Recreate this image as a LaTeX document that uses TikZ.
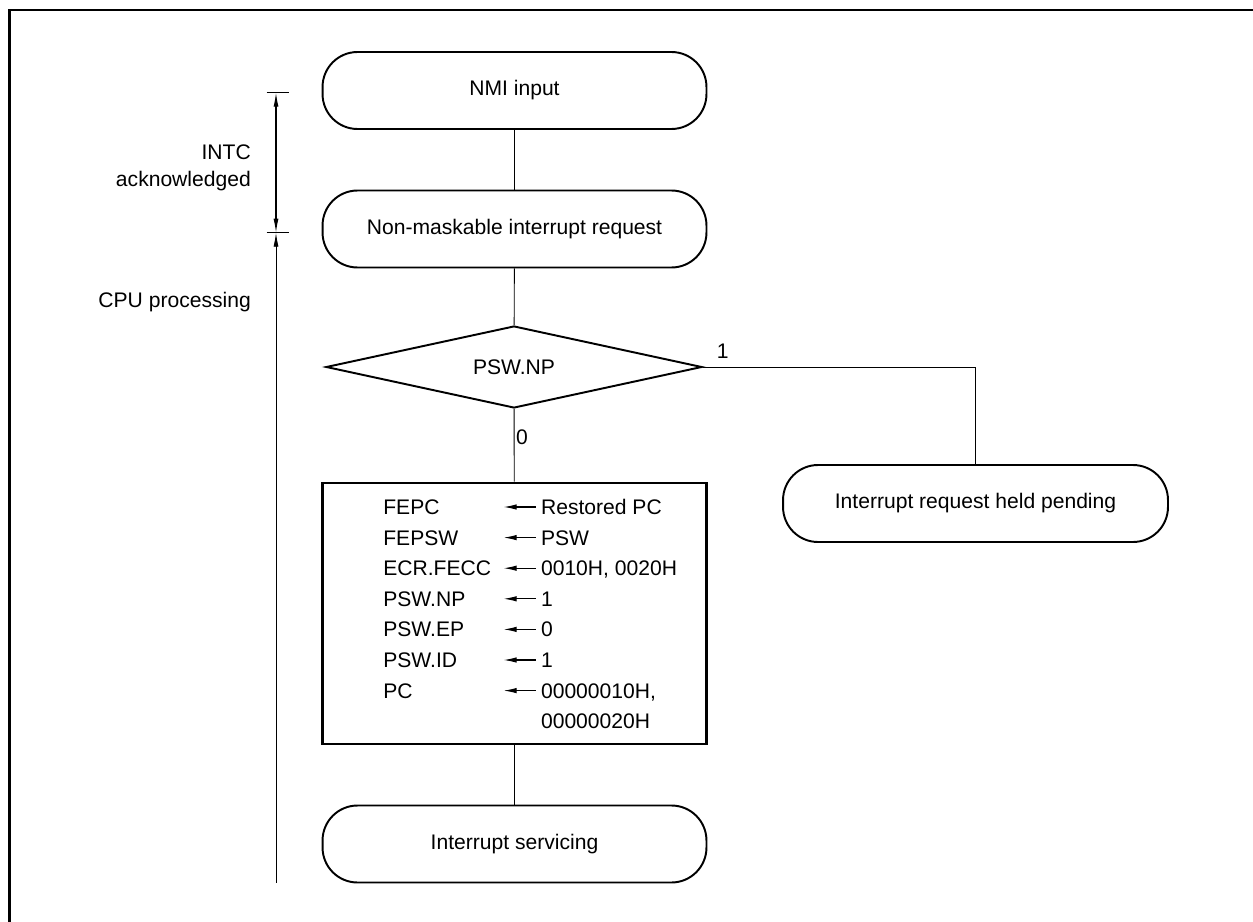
\documentclass[tikz,border=0pt]{standalone}
\usepackage{fontspec}
\setmainfont{Liberation Sans}
\usetikzlibrary{calc, positioning}
\usetikzlibrary{arrows.meta}
\usetikzlibrary{shapes.geometric}

\begin{document}
\begin{tikzpicture}[x=0.02cm, y=-0.02cm,
  every node/.style={font=\fontsize{12}{15.3}\selectfont},
  term/.style={draw, line width=1.1pt, rounded corners=0.7cm, minimum width=7.68cm, minimum height=1.54cm, inner sep=0pt},
  decision/.style={draw, diamond, line width=1.1pt, minimum width=7.52cm, minimum height=1.64cm, inner sep=0pt, aspect=4.6},
  procbox/.style={draw, line width=1.5pt, minimum width=7.67cm, minimum height=5.22cm, inner sep=0pt},
  flow/.style={line width=0.5pt},
  span/.style={line width=0.6pt, {Latex[length=0.28cm,width=0.1cm]}-{Latex[length=0.28cm,width=0.1cm]}},
  asgn/.style={line width=0.6pt, -{Latex[length=0.26cm,width=0.11cm]}},
  lbl/.style={anchor=base west, inner sep=0pt}]
\useasboundingbox (0,0) rectangle (1253,922);

% frame
\draw[line width=1.6pt] (9.5,922) -- (9.5,10) -- (1253,10);

% flow
\node[term] (nmi) at (514.5,90.5) {NMI input};
\node[term] (nmreq) at (514.5,229) {Non-maskable interrupt request};
\node[decision] (np) at (514,367) {PSW.NP};
\node[procbox] (save) at (514.5,613.5) {};
\node[term] (isr) at (514.5,844) {Interrupt servicing};
\node[term, minimum width=7.7cm] (hold) at (975.5,503.5) {Interrupt request held pending};

\draw[flow] (nmi) -- (nmreq);
\draw[flow] (nmreq) -- (np);
\draw[flow] (np) -- (save);
\draw[flow] (save) -- (isr);
\draw[flow] (np.east) -| (hold.north);
\node (one) at (722.7,351.7) {1};
\node (zero) at (522,437) {0};

% register updates
\node[lbl] (k1) at (383,514.5) {FEPC};
\node[lbl] (v1) at (540.7,514.5) {Restored PC};
\node[lbl] (k2) at (383,545.1) {FEPSW};
\node[lbl] (v2) at (540.7,545.1) {PSW};
\node[lbl] (k3) at (383,575.7) {ECR.FECC};
\node[lbl] (v3) at (540.7,575.7) {0010H, 0020H};
\node[lbl] (k4) at (383,606.3) {PSW.NP};
\node[lbl] (v4) at (540.7,606.3) {1};
\node[lbl] (k5) at (383,636.9) {PSW.EP};
\node[lbl] (v5) at (540.7,636.9) {0};
\node[lbl] (k6) at (383,667.5) {PSW.ID};
\node[lbl] (v6) at (540.7,667.5) {1};
\node[lbl] (k7) at (383,698.1) {PC};
\node[lbl] (v7) at (540.7,698.1) {00000010H,};
\node[lbl] (v8) at (540.7,728.7) {00000020H};

\draw[asgn] ([shift={(-5,-7.5)}]v1.base west) -- ++(-32,0);
\draw[asgn] ([shift={(-5,-7.5)}]v2.base west) -- ++(-32,0);
\draw[asgn] ([shift={(-5,-7.5)}]v3.base west) -- ++(-32,0);
\draw[asgn] ([shift={(-5,-7.5)}]v4.base west) -- ++(-32,0);
\draw[asgn] ([shift={(-5,-7.5)}]v5.base west) -- ++(-32,0);
\draw[asgn] ([shift={(-5,-7.5)}]v6.base west) -- ++(-32,0);
\draw[asgn] ([shift={(-5,-7.5)}]v7.base west) -- ++(-32,0);

% phases
\coordinate (t1) at (276,92.7);
\coordinate (t2) at (276,232.7);
\coordinate (t3) at (276,883);
\draw[flow] ([xshift=-0.19cm]t1) -- ([xshift=0.26cm]t1);
\draw[flow] ([xshift=-0.19cm]t2) -- ([xshift=0.26cm]t2);
\draw[span] (t1) -- (t2);
\draw[flow, {Latex[length=0.28cm,width=0.1cm]}-] (t2) -- (t3);
\node[anchor=east, align=right] (intc) at (257,168) {INTC\\acknowledged};
\node[anchor=east] (cpu) at (257,302) {CPU processing};
\end{tikzpicture}
\end{document}
